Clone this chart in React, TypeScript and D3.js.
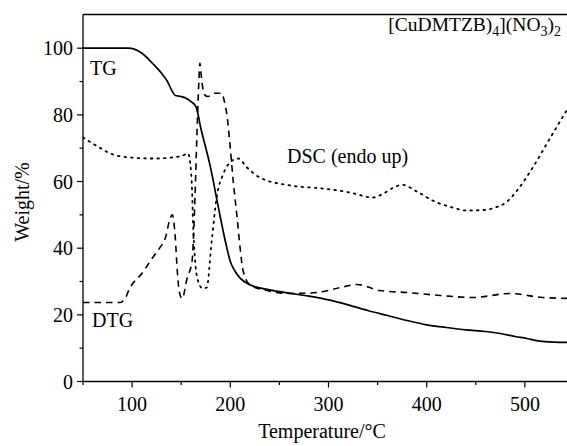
import React from "react";
import * as d3 from "d3";

// temperature (°C), value
const tgData: [number, number][] = [
  [50, 100], [96, 100], [110, 98.5], [121, 95.4], [130, 92.5], [136, 90], [141, 87],
  [144, 85.8], [150, 85.5], [155, 85], [160, 84], [165, 82.5], [170, 76], [180, 64],
  [188, 52], [195, 42], [200, 36], [205, 33], [210, 31], [220, 29], [240, 27.5],
  [260, 26.5], [280, 25.6], [300, 24.5], [320, 23], [340, 21.3], [360, 19.8],
  [380, 18.3], [400, 17], [420, 16.2], [440, 15.5], [460, 15], [475, 14.4],
  [490, 13.5], [502, 12.9], [515, 12.1], [530, 11.8], [548, 11.7],
];

const dscData: [number, number][] = [
  [50, 73.2], [65, 70.5], [78, 68.4], [98, 67.2], [123, 66.9], [140, 67.2], [150, 67.6],
  [157, 68.4], [160, 63], [161, 58], [162, 48], [164, 37], [167, 30.3], [172, 27.9],
  [176, 28.2], [181, 42], [186, 55], [193, 62.4], [202, 66.3], [208, 66.9], [217, 64.2],
  [230, 61.2], [261, 58.8], [294, 57.9], [322, 56.7], [345, 55.2], [356, 56.4],
  [365, 58], [375, 59], [390, 57], [406, 54.3], [425, 52.3], [441, 51.3], [460, 51.5],
  [470, 52.2], [482, 54], [492, 57.3], [508, 64.2], [526, 73.2], [548, 84],
];

const dtgData: [number, number][] = [
  [50, 23.7], [88, 23.7], [92, 24.5], [98, 28.2], [110, 32.4], [121, 37.2], [128, 40],
  [134, 43.2], [139, 49.2], [141, 50], [144, 43], [146, 33.3], [148, 27], [151, 24.9],
  [156, 31], [161, 36], [164, 55], [166, 74], [168, 90], [169, 95.5], [171, 90],
  [174, 86], [177, 85.5], [184, 86.5], [191, 86.5], [194, 84], [197, 79], [200, 70],
  [203, 60], [207, 49], [210, 40], [213, 33.3], [220, 29], [237, 27.3], [261, 26.4],
  [288, 26.7], [312, 28.2], [329, 29.1], [352, 27.3], [380, 26.7], [414, 25.8],
  [447, 25.2], [485, 26.4], [518, 25.2], [548, 24.9],
];

const xTicks = [100, 200, 300, 400, 500];
const xMinor = [50, 150, 250, 350, 450];
const yTicks = [0, 20, 40, 60, 80, 100];
const yMinor = [10, 30, 50, 70, 90];

const W = 567;
const H = 446;
const left = 83;
const top = 14.5;
const bottom = 381.5;

export default function App() {
  const x = d3.scaleLinear().domain([50, 550]).range([left, left + 500 * 0.982]);
  const y = d3.scaleLinear().domain([0, 110]).range([bottom, bottom - 110 * 3.333]);

  const line = d3
    .line<[number, number]>()
    .x((d) => x(d[0]))
    .y((d) => y(d[1]))
    .curve(d3.curveMonotoneX);

  const font = "'Liberation Serif', 'Times New Roman', serif";

  return (
    <svg
      width={W}
      height={H}
      style={{ position: "absolute", left: 0, top: 0, background: "#fff" }}
      fontFamily={font}
    >
      <defs>
        <clipPath id="plot">
          <rect x={left} y={top} width={W - left} height={bottom - top} />
        </clipPath>
      </defs>

      {/* frame */}
      <line x1={left} x2={W} y1={top} y2={top} stroke="#000" strokeWidth={1.3} />
      <line x1={left} x2={W} y1={bottom} y2={bottom} stroke="#000" strokeWidth={1.3} />
      <line x1={left} x2={left} y1={top} y2={bottom} stroke="#000" strokeWidth={1.3} />

      {xTicks.map((t) => (
        <g key={"x" + t}>
          <line x1={x(t)} x2={x(t)} y1={bottom} y2={bottom + 6} stroke="#000" strokeWidth={1.2} />
          <text x={x(t)} y={bottom + 29} textAnchor="middle" fontSize={20}>
            {t}
          </text>
        </g>
      ))}
      {xMinor.map((t) => (
        <line key={"xm" + t} x1={x(t)} x2={x(t)} y1={bottom} y2={bottom + 3.5} stroke="#000" strokeWidth={1.2} />
      ))}
      {yTicks.map((t) => (
        <g key={"y" + t}>
          <line x1={left - 6} x2={left} y1={y(t)} y2={y(t)} stroke="#000" strokeWidth={1.2} />
          <text x={left - 10} y={y(t) + 7} textAnchor="end" fontSize={20}>
            {t}
          </text>
        </g>
      ))}
      {yMinor.map((t) => (
        <line key={"ym" + t} x1={left - 3.5} x2={left} y1={y(t)} y2={y(t)} stroke="#000" strokeWidth={1.2} />
      ))}

      <g clipPath="url(#plot)" fill="none" stroke="#000">
        <path d={line(dscData) ?? ""} strokeWidth={1.8} strokeDasharray="1.6 5" strokeLinecap="round" />
        <path d={line(dtgData) ?? ""} strokeWidth={1.6} strokeDasharray="6.5 5" />
        <path d={line(tgData) ?? ""} strokeWidth={1.7} />
      </g>

      <text x={90} y={75} fontSize={20}>TG</text>
      <text x={92} y={327} fontSize={20}>DTG</text>
      <text x={287} y={163} fontSize={20}>DSC (endo up)</text>

      <text x={561} y={31} textAnchor="end" fontSize={19.5}>
        [CuDMTZB)
        <tspan fontSize={14} dy={5}>4</tspan>
        <tspan dy={-5}>](NO</tspan>
        <tspan fontSize={14} dy={5}>3</tspan>
        <tspan dy={-5}>)</tspan>
        <tspan fontSize={14} dy={5}>2</tspan>
      </text>

      <text x={322} y={438} textAnchor="middle" fontSize={20}>
        Temperature/°C
      </text>
      <text
        transform={`translate(29, ${(top + bottom) / 2 + 4}) rotate(-90)`}
        textAnchor="middle"
        fontSize={20}
      >
        Weight/%
      </text>
    </svg>
  );
}
